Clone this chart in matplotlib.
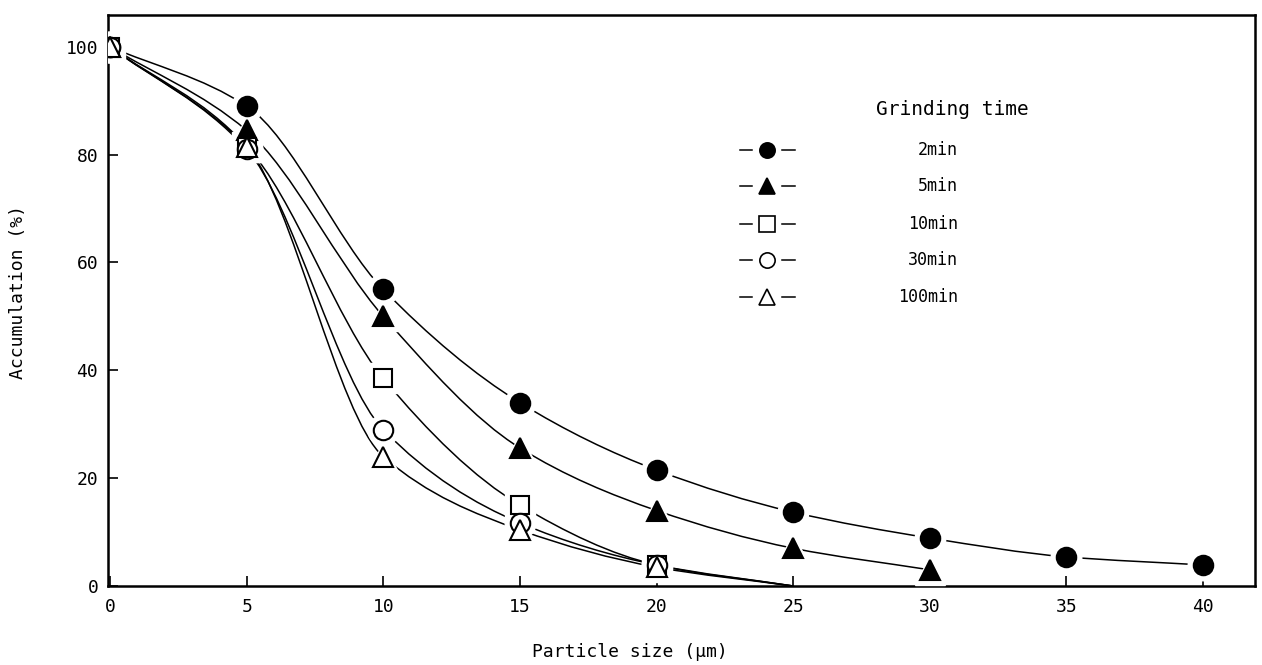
import numpy as np
import matplotlib.pyplot as plt
from matplotlib.path import Path
from matplotlib.patches import PathPatch

plt.rcParams['font.family'] = ['DejaVu Sans Mono', 'DejaVu Sans']

# accumulation (%) vs particle size (um) for each grinding time
size_2 = [0, 5, 10, 15, 20, 25, 30, 35, 40]
acc_2 = [100, 89, 55, 34, 21.5, 13.7, 8.9, 5.4, 3.9]

size_5 = [0, 5, 10, 15, 20, 25, 30]
acc_5 = [100, 84.5, 50, 25.6, 14, 7, 3]

size_fine = [0, 5, 10, 15, 20]
acc_10 = [100, 81.5, 38.5, 15, 3.9]
acc_30 = [100, 81, 29, 11.7, 3.9]
acc_100 = [100, 81.5, 24, 10.4, 3.5]

# fitted curves of the finer powders run down to the axis
tail_size = 25
tail_acc = 0

labels = ["2min", "5min", "10min", "30min", "100min"]
markers = ["o", "^", "s", "o", "^"]
filled = [True, True, False, False, False]


def smooth_path(xs, ys):
    # monotone cubic through the points, drawn as Bezier segments
    x = np.asarray(xs, float)
    y = np.asarray(ys, float)
    h = np.diff(x)
    d = np.diff(y) / h
    m = np.empty_like(y)
    m[0], m[-1] = d[0], d[-1]
    for i in range(1, len(y) - 1):
        if d[i - 1] * d[i] <= 0:
            m[i] = 0
        else:
            m[i] = 2 / (1 / d[i - 1] + 1 / d[i])
    verts = [(x[0], y[0])]
    codes = [Path.MOVETO]
    for i in range(len(x) - 1):
        verts += [(x[i] + h[i] / 3, y[i] + m[i] * h[i] / 3),
                  (x[i + 1] - h[i] / 3, y[i + 1] - m[i + 1] * h[i] / 3),
                  (x[i + 1], y[i + 1])]
        codes += [Path.CURVE4] * 3
    return Path(verts, codes)


fig = plt.figure(figsize=(12.62, 6.65), dpi=100)
ax = fig.add_axes([108 / 1262, 1 - 586 / 665, 1147 / 1262, 571 / 665])

series = [
    (size_2, acc_2, False),
    (size_5, acc_5, False),
    (size_fine, acc_10, True),
    (size_fine, acc_30, True),
    (size_fine, acc_100, True),
]

for xs, ys, tail in series:
    cx = list(xs) + ([tail_size] if tail else [])
    cy = list(ys) + ([tail_acc] if tail else [])
    ax.add_patch(PathPatch(smooth_path(cx, cy), fill=False, color="black",
                           lw=1.1, zorder=2))

# white halos break the curves around each point
for (xs, ys, _), m in zip(series, markers):
    ax.plot(xs, ys, m, ms=22, color="white", mec="white", zorder=3)

for (xs, ys, _), m, f in zip(series, markers, filled):
    ms = 13 if m == "s" else 14
    ax.plot(xs, ys, m, ms=ms, mfc="black" if f else "white", mec="black",
            mew=1.5, zorder=4)

ax.set_xlim(-0.073, 41.9)
ax.set_ylim(0, 105.9)
ax.set_xticks(range(0, 41, 5))
ax.set_yticks(range(0, 101, 20))
ax.tick_params(direction="in", length=7, width=1.2, labelsize=13)
ax.tick_params(axis="x", pad=9)
ax.tick_params(axis="y", pad=7)
for s in ax.spines.values():
    s.set_linewidth(1.8)

# legend drawn by hand: "-marker-" then right-aligned label
row_y = [0.7636, 0.7005, 0.6340, 0.5709, 0.5061]
for y, m, f, lab in zip(row_y, markers, filled, labels):
    ax.plot([0.551, 0.5615], [y, y], color="black", lw=1.1,
            transform=ax.transAxes, clip_on=False)
    ax.plot([0.5876, 0.599], [y, y], color="black", lw=1.1,
            transform=ax.transAxes, clip_on=False)
    ax.plot([0.5745], [y], m, ms=11, mfc="black" if f else "white",
            mec="black", mew=1.2, transform=ax.transAxes, clip_on=False)
    ax.text(0.741, y, lab, ha="right", va="center", fontsize=12,
            transform=ax.transAxes)
ax.text(0.736, 0.834, "Grinding time", ha="center", va="center",
        fontsize=14, transform=ax.transAxes)

fig.text(630 / 1262, 1 - 652 / 665, "Particle size (μm)", ha="center",
         va="center", fontsize=13)
fig.text(18 / 1262, 1 - 292 / 665, "Accumulation (%)", ha="center",
         va="center", rotation=90, fontsize=13)

fig.savefig("out.png", dpi=100)
